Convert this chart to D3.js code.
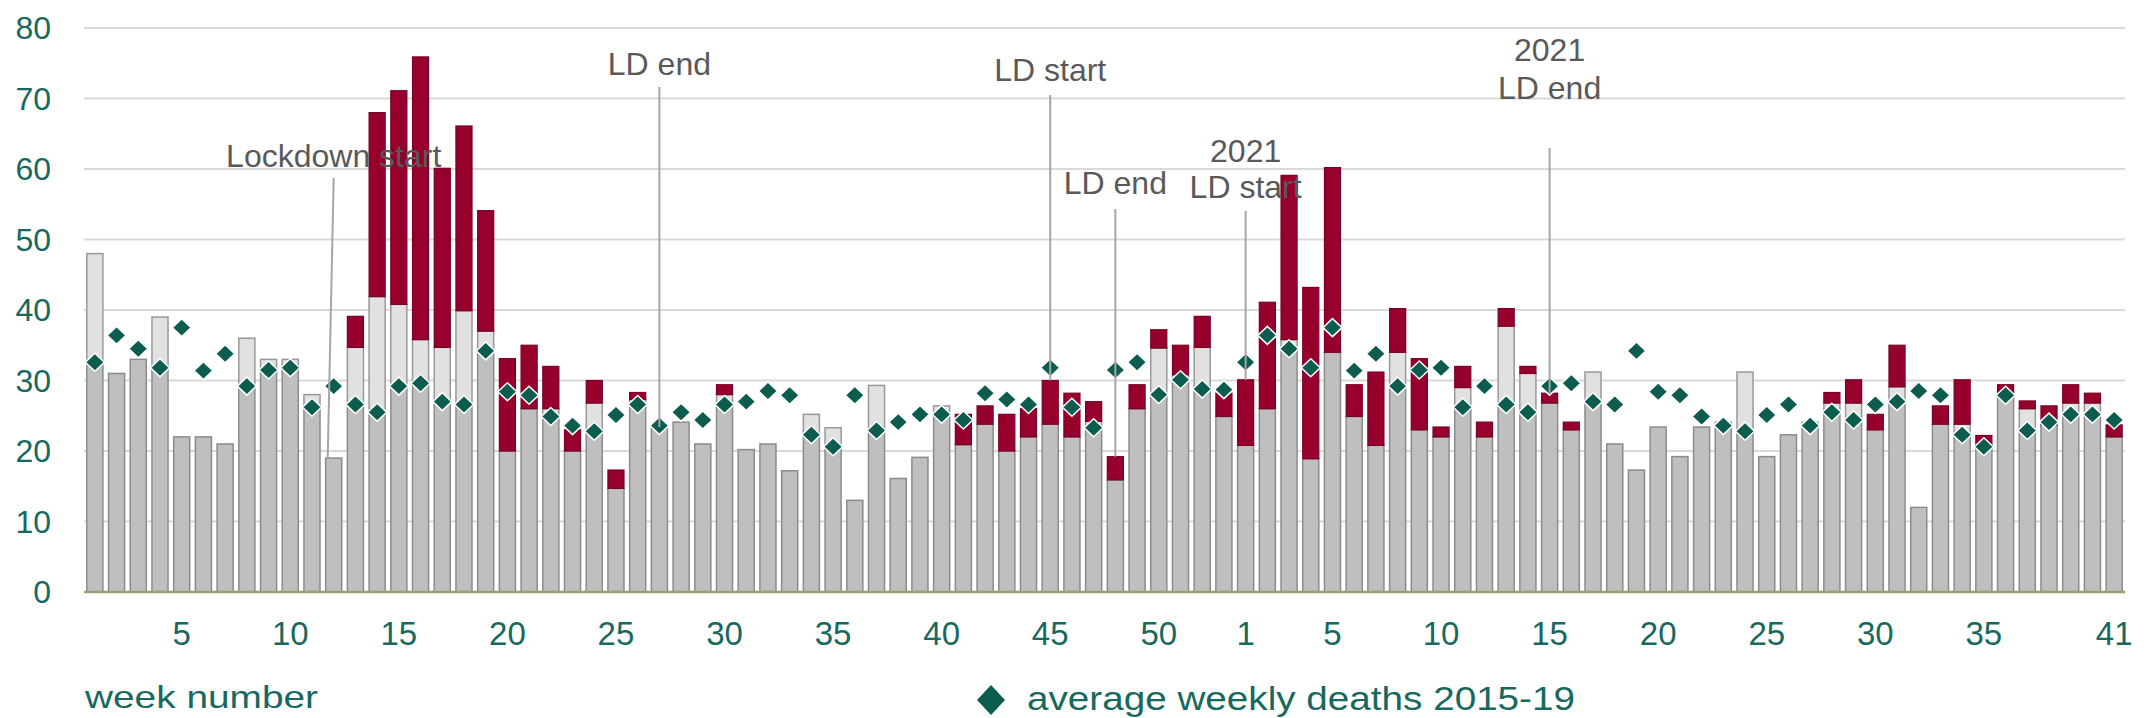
<!DOCTYPE html>
<html>
<head>
<meta charset="utf-8">
<script src="https://cdn.jsdelivr.net/npm/d3@7"></script>
<style>
  body { margin: 0; background: #fff; }
  svg { display: block; font-family: "Liberation Sans", Arial, sans-serif; }
</style>
</head>
<body>
<div id="chart"></div>
<script>
// week numbers shown on the x axis (2020 had 53 ISO weeks)
var weeks2020 = [1,2,3,4,5,6,7,8,9,10,11,12,13,14,15,16,17,18,19,20,21,22,23,24,25,26,27,28,29,30,31,32,33,34,35,36,37,38,39,40,41,42,43,44,45,46,47,48,49,50,51,52,53];
var weeks2021 = [1,2,3,4,5,6,7,8,9,10,11,12,13,14,15,16,17,18,19,20,21,22,23,24,25,26,27,28,29,30,31,32,33,34,35,36,37,38,39,40,41];

var tickWeeks2020 = [5,10,15,20,25,30,35,40,45,50];
var tickWeeks2021 = [1,5,10,15,20,25,30,35,41];

// deaths not involving covid, per week (2020 w1 .. 2021 w41)
var nonCovid = [48,31,33,39,22,22,21,36,33,33,28,19,34.7,41.9,40.8,35.8,34.7,39.9,37,20,26,26,20,26.8,14.7,27.3,23.4,24.1,21,28,20.2,21,17.2,25.2,23.3,13,29.3,16.1,19.1,26.4,20.9,23.8,20,22,23.8,22,24.2,15.9,26,34.6,30.8,34.7,24.9,
                20.8,26,35.8,18.9,34,24.9,20.8,34,23,22,29,22,37.7,31,26.8,23,31.2,21,17.3,23.4,19.2,23.4,24.1,31.2,19.2,22.3,24.1,26.8,26.8,23,29.1,12,23.8,23.8,20.9,28.2,26,23.7,26.8,26.8,22];

// deaths involving covid, per week
var covid = [0,0,0,0,0,0,0,0,0,0,0,0,4.4,26.1,30.3,40.1,25.4,26.2,17.1,13.1,9,6,3,3.2,2.6,1,0,0,0,1.4,0,0,0,0,0,0,0,0,0,0,4.3,2.6,5.2,4,6.2,6.2,2.8,3.3,3.4,2.6,4.2,4.4,3.3,
             9.3,15.1,23.3,24.3,26.2,4.5,10.4,6.2,10.1,1.4,3,2.1,2.5,1,1.4,1.1,0,0,0,0,0,0,0,0,0,0,0,1.5,3.3,2.2,5.9,0,2.6,6.3,1.3,1.2,1.1,2.7,2.6,1.4,1.7];

// average weekly deaths 2015-19
var average = [32.6,36.4,34.5,31.8,37.5,31.4,33.8,29.2,31.5,31.8,26.2,29.2,26.6,25.5,29.2,29.6,27,26.6,34.2,28.4,27.9,24.9,23.6,22.8,25.1,26.6,23.6,25.5,24.4,26.6,27,28.5,27.9,22.3,20.6,27.9,22.9,24.1,25.2,25.2,24.4,28.2,27.3,26.6,31.8,26.2,23.3,31.5,32.6,28,30.1,28.8,28.7,
               32.6,36.4,34.5,31.8,37.5,31.4,33.8,29.2,31.5,31.8,26.2,29.2,26.6,25.5,29.2,29.6,27,26.6,34.2,28.4,27.9,24.9,23.6,22.8,25.1,26.6,23.6,25.5,24.4,26.6,27,28.5,27.9,22.3,20.6,27.9,22.9,24.1,25.2,25.2,24.4];

var yTicks = [0,10,20,30,40,50,60,70,80];

// lockdown annotations
var annoKeys  = ["2020-12", "2020-27", "2020-45", "2020-48", "2021-1", "2021-15"];
var annoTexts = [["Lockdown start"], ["LD end"], ["LD start"], ["LD end"], ["2021", "LD start"], ["2021", "LD end"]];

(function(){
    var W = 2148, H = 718;
    var mLeft = 84, mRight = 2125, mTop = 28, mBottom = 592;

    var categories = weeks2020.map(function(w){ return "2020-" + w; })
        .concat(weeks2021.map(function(w){ return "2021-" + w; }));

    var data = categories.map(function(k, i){
        return { key: k, nc: nonCovid[i], covid: covid[i], avg: average[i] };
    });

    var svg = d3.select("#chart").append("svg").attr("width", W).attr("height", H);

    var x = d3.scaleBand().domain(categories).range([mLeft, mRight]).paddingInner(0.26).paddingOuter(0.13);
    var y = d3.scaleLinear().domain([0, 80]).range([mBottom, mTop]);
    var bw = x.bandwidth();
    var teal = "#17695e";

    // gridlines
    svg.append("g").selectAll("line")
        .data(yTicks.filter(function(d){ return d > 0; }))
        .enter().append("line")
        .attr("x1", mLeft).attr("x2", mRight)
        .attr("y1", function(d){ return y(d); }).attr("y2", function(d){ return y(d); })
        .attr("stroke", "#d9d9d9").attr("stroke-width", 2);

    // y labels
    svg.append("g").selectAll("text")
        .data(yTicks)
        .enter().append("text")
        .attr("x", 51).attr("y", function(d){ return y(d) + 11; })
        .attr("text-anchor", "end")
        .attr("font-size", 32).attr("fill", teal)
        .text(function(d){ return d; });

    // bars: grey part up to the average, light grey above it, red covid on top
    var bars = svg.append("g").selectAll("g").data(data).enter().append("g");

    bars.append("rect")
        .attr("x", function(d){ return x(d.key); })
        .attr("width", bw)
        .attr("y", function(d){ return y(Math.min(d.nc, d.avg)); })
        .attr("height", function(d){ return y(0) - y(Math.min(d.nc, d.avg)); })
        .attr("fill", "#bfbfbf").attr("stroke", "#8c8c8c").attr("stroke-width", 1.5);

    bars.filter(function(d){ return d.nc > d.avg; }).append("rect")
        .attr("x", function(d){ return x(d.key); })
        .attr("width", bw)
        .attr("y", function(d){ return y(d.nc); })
        .attr("height", function(d){ return y(d.avg) - y(d.nc); })
        .attr("fill", "#e1e1e1").attr("stroke", "#999").attr("stroke-width", 1.5);

    bars.filter(function(d){ return d.covid > 0; }).append("rect")
        .attr("x", function(d){ return x(d.key); })
        .attr("width", bw)
        .attr("y", function(d){ return y(d.nc + d.covid); })
        .attr("height", function(d){ return y(d.nc) - y(d.nc + d.covid); })
        .attr("fill", "#97002d").attr("stroke", "#7a0025").attr("stroke-width", 1.2);

    // axis line
    svg.append("line")
        .attr("x1", mLeft).attr("x2", mRight).attr("y1", mBottom).attr("y2", mBottom)
        .attr("stroke", "#a09c6e").attr("stroke-width", 2.5);

    // average diamonds
    svg.append("g").selectAll("path")
        .data(data)
        .enter().append("path")
        .attr("d", "M0,-9L9.5,0L0,9L-9.5,0Z")
        .attr("transform", function(d){ return "translate(" + (x(d.key) + bw / 2) + "," + y(d.avg) + ")"; })
        .attr("fill", "#0c5c50").attr("stroke", "#fff").attr("stroke-width", 1.5);

    // x tick labels
    var tickKeys = tickWeeks2020.map(function(w){ return "2020-" + w; })
        .concat(tickWeeks2021.map(function(w){ return "2021-" + w; }));
    svg.append("g").selectAll("text")
        .data(tickKeys)
        .enter().append("text")
        .attr("x", function(k){ return x(k) + bw / 2; })
        .attr("y", 645)
        .attr("text-anchor", "middle")
        .attr("font-size", 33).attr("fill", teal)
        .text(function(k){ return k.split("-")[1]; });

    // annotations
    var annoLayout = [
        { textY: [167], lineTop: 178, dx: -6 },
        { textY: [75], lineTop: 87, dx: 0 },
        { textY: [81], lineTop: 95, dx: 0 },
        { textY: [194], lineTop: 209, dx: 0 },
        { textY: [162, 198], lineTop: 211, dx: 0 },
        { textY: [61, 99], lineTop: 148, dx: 0 }
    ];
    var byKey = {};
    data.forEach(function(d){ byKey[d.key] = d; });

    var anno = svg.append("g").selectAll("g")
        .data(annoKeys)
        .enter().append("g");

    anno.append("line")
        .attr("x1", function(k){ return x(k) + bw / 2; })
        .attr("x2", function(k, i){ return x(k) + bw / 2 + annoLayout[i].dx; })
        .attr("y1", function(k, i){ return annoLayout[i].lineTop; })
        .attr("y2", function(k){ return y(byKey[k].nc + byKey[k].covid); })
        .attr("stroke", "#a6a6a6").attr("stroke-width", 2);

    anno.each(function(k, i){
        var g = d3.select(this);
        annoTexts[i].forEach(function(t, j){
            g.append("text")
                .attr("x", x(k) + bw / 2)
                .attr("y", annoLayout[i].textY[j])
                .attr("text-anchor", "middle")
                .attr("font-size", 32).attr("fill", "#595959")
                .text(t);
        });
    });

    // axis title and legend
    svg.append("text")
        .attr("x", 85).attr("y", 708)
        .attr("font-size", 32).attr("fill", teal)
        .attr("textLength", 233).attr("lengthAdjust", "spacingAndGlyphs")
        .text("week number");

    svg.append("path")
        .attr("d", "M0,-15L14,0L0,15L-14,0Z")
        .attr("transform", "translate(991,700)")
        .attr("fill", "#0c5c50");

    svg.append("text")
        .attr("x", 1027).attr("y", 710)
        .attr("font-size", 34).attr("fill", teal)
        .attr("textLength", 548).attr("lengthAdjust", "spacingAndGlyphs")
        .text("average weekly deaths 2015-19");
})();
</script>
</body>
</html>
